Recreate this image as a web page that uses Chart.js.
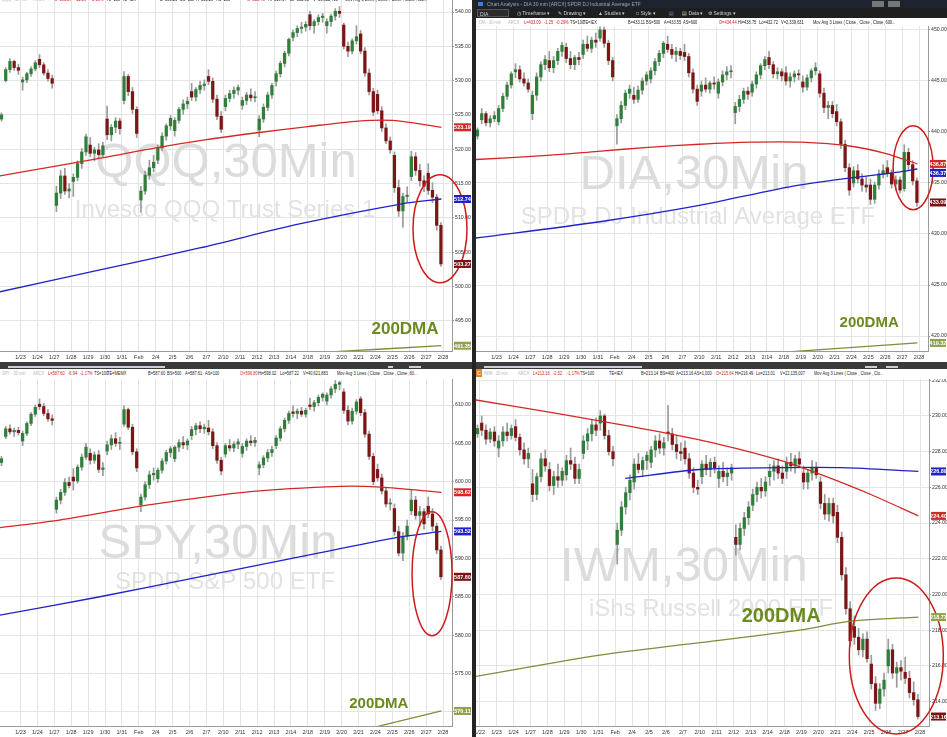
<!DOCTYPE html>
<html>
<head>
<meta charset="utf-8">
<script src="https://cdn.jsdelivr.net/npm/chart.js@4.4.1/dist/chart.umd.min.js"></script>
<style>
body{margin:0;width:947px;height:737px;background:#242424;overflow:hidden;position:relative;font-family:"Liberation Sans",Arial,sans-serif}
.panel{position:absolute;background:#fff;overflow:hidden}
.panel canvas{position:absolute;left:0}
.info{position:absolute;left:0;height:9px;width:100%;font-size:5px;white-space:nowrap}
.info span{position:absolute;top:1px;color:#222;transform:scaleX(0.8);transform-origin:0 50%}
.info .g{color:#b8b8b8}.info .r{color:#d42222}
.scroll{position:absolute;height:7px;background:#3a3a3a}
.scroll div{position:absolute;top:4px;height:2px;background:#c9d0da}
.titlebar{position:absolute;left:0;top:0;width:100%;height:8px;background:#1d2430;color:#9aa4b0;font-size:5px;line-height:8px}
.toolbar{position:absolute;left:0;top:8px;width:100%;height:10px;background:#1f1f1f;color:#cfcfcf;font-size:5px;line-height:10px}
.toolbar span,.titlebar span{position:absolute}
</style>
</head>
<body>

<div class="panel" style="left:0;top:0;width:472px;height:362px">
  <canvas id="qqq" width="472" height="362" style="top:0"></canvas>
  <div class="info" style="top:-5px">
    <span class="g" style="left:2px">QQQ - 30 min</span><span class="g" style="left:33px">ARCX</span>
    <span class="r" style="left:55px">L=503.27</span><span class="r" style="left:75px">-11.29</span><span class="r" style="left:91px">-2.19%</span>
    <span style="left:106px">TS=100</span><span style="left:122px">TE=IEX</span><span style="left:160px">B=503.26</span><span style="left:180px">BS=100</span>
    <span style="left:196px">A=503.29</span><span style="left:216px">AS=200</span><span class="r" style="left:247px">O=518.48</span><span style="left:268px">Hi=519.64</span>
    <span style="left:290px">Lo=502.93</span><span style="left:313px">V=36,612,410</span><span style="left:345px">Mov Avg 3 Lines ( Close , Close , Close ,600...</span>
  </div>
</div>
<div class="scroll" style="left:0;top:362px;width:472px"><div style="left:8px;width:157px"></div><div style="left:388px;width:5px"></div><div style="left:409px;width:12px"></div></div>

<div class="panel" style="left:476px;top:0;width:471px;height:362px">
  <div class="titlebar"><span style="left:2px;top:2px;width:5px;height:4px;background:#3d7fd6"></span><span style="left:11px">Chart Analysis - DIA 30 min [ARCX] SPDR DJ Industrial Average ETF</span>
    <span style="left:396px;top:1px;width:12px;height:6px;background:#777"></span><span style="left:412px;top:1px;width:12px;height:6px;background:#777"></span></div>
  <div class="toolbar">
    <span style="left:1px;top:1px;width:32px;height:8px;line-height:8px;background:#2c2c2c;border:1px solid #555;box-sizing:border-box;padding-left:2px">DIA</span>
    <span style="left:41px">&#9719; Timeframe &#9662;</span><span style="left:82px">&#9998; Drawing &#9662;</span><span style="left:122px">&#9650; Studies &#9662;</span>
    <span style="left:160px">&#9633; Style &#9662;</span><span style="left:193px;color:#5b8fd8">&#9636;</span><span style="left:206px">&#9636; Data &#9662;</span><span style="left:232px">&#9881; Settings &#9662;</span>
  </div>
  <div class="info" style="top:18px">
    <span class="g" style="left:3px">DIA - 30 min</span><span class="g" style="left:32px">ARCX</span>
    <span class="r" style="left:48px">L=433.09</span><span class="r" style="left:68px">-1.25</span><span class="r" style="left:80px">-0.29%</span>
    <span style="left:94px">TS=100</span><span style="left:107px">TE=IEX</span><span style="left:152px">B=433.11</span><span style="left:170px">BS=500</span>
    <span style="left:188px">A=433.55</span><span style="left:207px">AS=600</span><span class="r" style="left:243px">O=434.44</span><span style="left:262px">Hi=438.75</span>
    <span style="left:283px">Lo=432.72</span><span style="left:305px">V=2,339,631</span><span style="left:337px">Mov Avg 3 Lines ( Close , Close , Close ,600...</span>
  </div>
  <canvas id="dia" width="471" height="336" style="top:26px"></canvas>
</div>
<div class="scroll" style="left:476px;top:362px;width:471px"><div style="left:8px;width:158px"></div><div style="left:389px;width:12px"></div><div style="left:410px;width:12px"></div></div>

<div class="panel" style="left:0;top:369px;width:472px;height:368px">
  <div class="info" style="top:0">
    <span class="g" style="left:2px">SPY - 30 min</span><span class="g" style="left:33px">ARCX</span>
    <span class="r" style="left:48px">L=587.60</span><span class="r" style="left:68px">-6.94</span><span class="r" style="left:80px">-1.17%</span>
    <span style="left:94px">TS=100</span><span style="left:107px">TE=MEMX</span><span style="left:148px">B=587.60</span><span style="left:167px">BS=500</span>
    <span style="left:185px">A=587.61</span><span style="left:205px">AS=100</span><span class="r" style="left:240px">O=596.80</span><span style="left:258px">Hi=598.02</span>
    <span style="left:280px">Lo=587.22</span><span style="left:303px">V=40,621,883</span><span style="left:337px">Mov Avg 3 Lines ( Close , Close , Close ,60...</span>
  </div>
  <canvas id="spy" width="472" height="358" style="top:10px"></canvas>
</div>

<div class="panel" style="left:476px;top:369px;width:471px;height:368px">
  <div class="info" style="top:0">
    <span style="left:0;top:0;width:6px;height:8px;background:#e8862a;color:#fff;text-align:center;line-height:8px;transform:none">C</span>
    <span class="g" style="left:8px">IWM - 30 min</span><span class="g" style="left:42px">ARCX</span>
    <span class="r" style="left:57px">L=213.16</span><span class="r" style="left:77px">-2.52</span><span class="r" style="left:91px">-1.17%</span>
    <span style="left:104px">TS=100</span><span style="left:133px">TE=IEX</span><span style="left:165px">B=213.14</span><span style="left:184px">BS=400</span>
    <span style="left:200px">A=213.16</span><span style="left:218px">AS=1,000</span><span class="r" style="left:240px">O=215.64</span><span style="left:259px">Hi=216.49</span>
    <span style="left:280px">Lo=213.01</span><span style="left:304px">V=22,135,007</span><span style="left:338px">Mov Avg 3 Lines ( Close , Close , Clo...</span>
  </div>
  <canvas id="iwm" width="471" height="358" style="top:10px"></canvas>
</div>

<script>
// session labels, index k = position - 1 (1/23 sits at k = 0, Feb = 2/3)
var dayLabels = ['1/22','1/23','1/24','1/27','1/28','1/29','1/30','1/31','Feb','2/4','2/5','2/6','2/7','2/10','2/11','2/12','2/13','2/14','2/18','2/19','2/20','2/21','2/24','2/25','2/26','2/27','2/28'];

// 30 min candles, grouped 4 per session: [open, high, low, close]
// first entry = last block of 1/21, last line = 2/27 (intraday)
var qqqBars = [
  [524.4,525.3,524.1,525.0],
  [530.0,531.9,529.8,531.6],[531.6,533.2,531.2,532.8],[532.8,533.0,531.5,531.9],[531.9,532.4,530.9,531.5],
  [529.8,530.5,528.6,530.1],[530.1,531.2,529.7,531.0],[531.0,532.0,530.6,531.7],[531.7,532.9,531.4,532.6],
  [533.1,533.8,531.9,532.3],[532.3,532.6,530.8,531.1],[531.1,531.6,529.9,530.3],[530.3,530.8,528.9,529.6],
  [511.8,514.6,510.9,513.6],[513.6,516.9,512.8,516.1],[516.1,517.2,513.4,513.9],[513.9,515.0,512.9,514.2],
  [515.3,516.4,513.1,515.9],[515.9,518.3,515.4,517.9],[517.9,520.1,517.2,519.6],[519.6,522.2,519.1,521.8],
  [520.6,521.7,518.9,519.4],[519.4,520.3,518.3,519.9],[519.9,520.8,518.7,519.2],[519.2,521.0,518.9,520.5],
  [524.4,526.3,521.4,522.1],[522.1,523.6,521.2,523.2],[523.2,524.6,522.4,524.1],[524.1,524.5,522.2,523.0],
  [527.1,531.3,526.6,530.6],[530.6,530.9,527.8,528.4],[528.4,529.0,525.2,525.8],[525.8,526.2,521.7,522.3],
  [512.6,514.6,510.8,513.9],[513.9,516.8,513.4,516.2],[516.2,518.4,515.6,517.3],[517.3,519.1,516.7,518.1],
  [518.4,520.6,517.9,520.2],[520.2,522.4,519.8,521.9],[521.9,523.7,521.3,523.4],[523.4,524.9,522.8,524.5],
  [522.7,524.6,521.9,524.2],[524.2,526.1,523.8,525.8],[525.8,527.2,525.1,526.6],[526.6,527.6,525.9,527.0],
  [528.4,529.6,527.1,527.6],[527.6,529.0,527.0,528.7],[528.7,529.9,528.1,529.3],[529.3,530.1,528.6,529.5],
  [530.6,531.6,529.4,529.9],[529.9,530.4,526.8,527.3],[527.3,527.9,524.3,524.8],[524.8,525.5,522.4,522.9],
  [526.2,527.9,525.6,527.4],[527.4,528.6,526.9,528.1],[528.1,529.1,527.4,528.6],[528.6,529.4,527.9,529.0],
  [526.4,527.6,525.8,527.1],[527.1,528.3,526.5,527.9],[527.9,528.8,527.0,527.5],[527.5,528.4,526.9,527.6],
  [522.8,524.9,521.8,524.4],[524.4,526.6,523.9,526.1],[526.1,528.3,525.6,527.9],[527.9,529.6,527.4,529.3],
  [529.9,531.4,529.2,531.0],[531.0,532.8,530.5,532.5],[532.5,534.3,532.0,534.0],[534.0,536.2,533.6,536.0],
  [536.3,537.4,535.8,537.0],[537.0,538.0,536.4,537.6],[537.6,538.5,536.9,537.8],[537.8,538.6,537.2,538.2],
  [539.6,540.1,537.4,538.0],[538.0,538.9,536.9,538.6],[538.6,539.6,538.1,539.2],[539.2,539.8,538.5,539.4],
  [538.0,539.0,536.9,538.6],[538.6,539.7,537.9,539.4],[539.4,540.5,538.8,540.1],[540.1,540.8,539.2,539.8],
  [538.1,538.4,534.6,535.0],[535.0,535.6,533.5,534.3],[534.3,536.1,533.9,535.8],[535.8,538.0,535.3,536.4],
  [536.8,537.3,533.9,534.3],[534.3,534.8,530.6,531.1],[531.1,531.7,527.9,528.4],[528.4,528.9,524.9,525.4],
  [528.0,528.6,525.2,525.6],[525.6,526.2,522.6,523.1],[523.1,523.7,520.8,521.2],[521.2,521.8,519.4,519.9],
  [519.1,519.6,513.7,514.4],[514.4,515.5,510.2,511.0],[511.0,513.6,508.6,513.1],[513.1,514.5,512.2,513.3],
  [516.0,519.7,515.4,518.9],[518.9,519.5,516.2,516.9],[516.9,517.8,514.6,515.4],[515.4,516.1,513.8,514.6],
  [516.5,517.9,513.4,514.0],[514.0,515.1,512.2,513.0],[513.0,513.4,508.2,508.9],[508.9,509.3,502.9,503.27]
];
var diaBars = [
  [439.6,440.4,439.3,440.2],
  [441.2,442.3,440.8,441.8],[441.8,442.0,440.6,440.9],[440.9,441.6,440.5,441.3],[441.3,442.0,441.0,441.6],
  [441.0,442.6,440.7,442.3],[442.3,443.8,442.0,443.5],[443.5,444.9,443.2,444.6],[444.6,445.9,444.3,445.7],
  [445.9,446.7,445.3,446.1],[446.1,446.5,444.9,445.2],[445.2,445.8,444.5,444.8],[444.8,445.2,443.9,444.2],
  [441.8,444.0,441.2,443.6],[443.6,445.8,443.1,445.4],[445.4,446.9,445.0,446.6],[446.6,447.5,446.1,447.1],
  [447.0,447.9,445.9,446.3],[446.3,447.4,445.8,447.0],[447.0,448.2,446.6,447.9],[447.9,448.8,447.4,448.5],
  [448.3,448.7,446.8,447.2],[447.2,447.9,446.2,446.6],[446.6,447.5,446.1,447.3],[447.3,447.8,446.6,447.1],
  [447.6,449.0,447.2,448.6],[448.6,449.4,447.9,448.2],[448.2,449.3,447.8,449.0],[449.0,449.7,448.3,448.8],
  [449.2,450.3,448.9,450.0],[450.0,450.3,448.3,448.7],[448.7,449.0,446.6,447.0],[447.0,447.3,445.0,445.4],
  [440.6,441.7,438.8,441.3],[441.3,443.0,440.9,442.6],[442.6,444.1,442.2,443.8],[443.8,444.6,443.3,444.2],
  [443.6,444.4,442.8,443.2],[443.2,444.5,442.9,444.1],[444.1,445.3,443.7,445.0],[445.0,445.9,444.6,445.6],
  [445.2,446.3,444.8,446.0],[446.0,447.2,445.6,446.9],[446.9,448.0,446.5,447.7],[447.7,448.9,447.3,448.7],
  [448.6,449.4,447.8,448.1],[448.1,448.6,447.2,447.6],[447.6,448.3,446.9,447.9],[447.9,448.2,447.1,447.5],
  [447.8,448.6,447.0,447.4],[447.4,447.7,445.4,445.8],[445.8,446.2,443.8,444.2],[444.2,444.6,442.6,443.0],
  [444.0,445.0,443.5,444.6],[444.6,445.3,443.9,444.2],[444.2,445.0,443.8,444.8],[444.8,445.4,444.2,444.7],
  [443.8,445.2,443.3,444.9],[444.9,446.0,444.5,445.6],[445.6,446.4,445.1,445.9],[445.9,446.5,445.3,445.9],
  [441.9,442.9,440.8,442.5],[442.5,443.6,442.0,443.2],[443.2,444.3,442.8,444.0],[444.0,444.4,443.2,443.7],
  [443.9,445.0,443.5,444.7],[444.7,445.9,444.3,445.6],[445.6,446.7,445.2,446.5],[446.5,447.4,446.1,447.1],
  [447.3,447.9,446.2,446.6],[446.6,446.9,445.3,445.7],[445.7,446.3,445.2,445.9],[445.9,446.2,445.0,445.5],
  [445.8,446.4,444.6,445.0],[445.0,445.8,444.4,445.4],[445.4,446.0,444.9,445.7],[445.7,446.1,445.1,445.6],
  [444.9,445.5,443.9,444.4],[444.4,445.6,444.1,445.3],[445.3,446.2,444.9,446.0],[446.0,446.8,445.6,446.3],
  [445.7,446.0,443.4,443.8],[443.8,444.3,441.9,442.4],[442.4,443.0,441.3,442.6],[442.6,443.0,441.4,441.8],
  [442.0,442.7,440.6,441.0],[441.0,441.3,438.4,438.8],[438.8,439.2,436.1,436.5],[436.5,436.9,433.8,434.3],
  [435.0,436.6,434.6,436.2],[436.2,436.8,435.0,435.4],[435.4,435.9,434.2,434.8],[434.8,435.6,434.1,434.6],
  [434.8,435.4,432.9,433.4],[433.4,435.1,433.0,434.8],[434.8,436.3,434.4,435.9],[435.9,436.8,435.5,436.2],
  [436.5,437.2,435.6,436.0],[436.0,436.3,434.5,434.9],[434.9,435.7,434.3,435.3],[435.3,435.6,434.0,434.3],
  [434.44,438.75,434.2,438.0],[438.0,438.4,436.3,436.8],[436.8,437.2,434.8,435.2],[435.2,435.5,432.72,433.09]
];
var spyBars = [
  [602.5,603.3,602.1,603.0],
  [605.9,607.2,605.6,606.9],[606.9,607.4,606.2,606.5],[606.5,607.0,605.9,606.7],[606.7,607.1,606.1,606.4],
  [605.3,606.6,604.7,606.3],[606.3,607.8,606.0,607.6],[607.6,609.0,607.3,608.8],[608.8,610.0,608.5,609.7],
  [610.1,610.8,609.4,609.8],[609.8,610.2,608.6,608.9],[608.9,609.4,607.9,608.2],[608.2,608.7,607.4,608.0],
  [596.4,598.0,595.9,597.6],[597.6,599.0,597.1,598.6],[598.6,600.4,598.2,599.9],[599.9,600.6,599.2,599.5],
  [600.6,601.7,598.9,600.1],[600.1,602.2,599.8,601.9],[601.9,603.6,601.5,603.2],[603.2,605.0,602.9,604.5],
  [603.7,604.3,602.3,602.8],[602.8,603.9,602.4,603.5],[603.5,604.1,601.2,601.6],[601.6,602.5,600.8,601.8],
  [604.0,605.3,603.5,604.8],[604.8,606.1,604.2,605.6],[605.6,606.4,604.6,605.0],[605.0,605.8,604.2,605.0],
  [607.5,609.9,607.2,609.4],[609.4,609.6,606.8,607.1],[607.1,607.5,603.5,603.9],[603.9,604.3,601.3,601.8],
  [597.0,598.4,596.1,598.0],[598.0,600.0,597.6,599.6],[599.6,601.4,599.1,600.9],[600.9,601.8,600.2,601.1],
  [600.4,601.8,599.9,601.5],[601.5,603.0,601.1,602.7],[602.7,604.1,602.3,603.8],[603.8,604.6,603.2,604.3],
  [603.0,604.7,602.6,604.5],[604.5,605.5,603.9,605.1],[605.1,605.9,604.3,604.8],[604.8,605.6,604.2,605.3],
  [606.0,607.2,605.5,606.8],[606.8,607.6,606.1,607.3],[607.3,607.8,606.4,606.9],[606.9,607.5,606.3,607.1],
  [607.0,608.0,606.1,606.5],[606.5,606.9,604.3,604.7],[604.7,605.1,602.4,602.8],[602.8,603.2,600.9,601.4],
  [603.6,605.0,603.2,604.7],[604.7,605.5,604.0,604.4],[604.4,605.2,603.9,604.9],[604.9,605.6,604.3,605.2],
  [603.7,605.0,603.2,604.6],[604.6,605.6,604.1,605.3],[605.3,606.0,604.7,605.1],[605.1,605.8,604.6,605.4],
  [601.8,602.6,600.9,602.2],[602.2,603.4,601.8,603.1],[603.1,604.2,602.6,603.8],[603.8,604.6,603.3,604.2],
  [604.7,606.0,604.3,605.7],[605.7,607.2,605.3,606.9],[606.9,608.3,606.5,608.0],[608.0,609.2,607.6,608.9],
  [609.1,609.9,608.4,608.9],[608.9,609.5,608.2,609.2],[609.2,609.7,608.5,608.8],[608.8,609.6,608.4,609.3],
  [610.0,610.9,609.4,609.8],[609.8,610.6,609.2,610.3],[610.3,611.3,609.9,611.0],[611.0,611.6,610.5,611.4],
  [610.5,611.6,610.0,611.3],[611.3,612.4,610.9,612.1],[612.1,613.2,611.6,612.7],[612.7,613.1,612.0,612.9],
  [611.7,612.1,608.9,609.3],[609.3,609.9,607.4,607.9],[607.9,609.6,607.5,609.2],[609.2,610.7,608.8,610.4],
  [610.8,611.1,608.6,609.0],[609.0,609.4,605.8,606.2],[606.2,606.6,602.9,603.3],[603.3,603.7,599.6,600.0],
  [601.6,602.3,600.1,600.5],[600.5,601.0,598.4,598.8],[598.8,599.3,596.7,597.1],[597.1,597.8,596.3,597.2],
  [596.5,597.1,593.0,593.5],[593.5,594.2,590.3,590.7],[590.7,593.4,589.7,592.9],[592.9,595.0,592.4,594.2],
  [596.2,598.9,595.7,597.6],[597.6,598.1,595.1,595.6],[595.6,596.8,594.2,596.1],[596.1,596.5,593.8,594.5],
  [596.8,598.02,595.3,595.8],[595.8,596.5,593.6,594.2],[594.2,594.6,590.6,591.1],[591.1,591.6,587.22,587.6]
];
var iwmBars = [
  [229.0,229.5,228.8,229.3],
  [229.6,230.0,228.9,229.2],[229.2,229.5,228.4,228.7],[228.7,229.3,228.5,229.1],[229.1,229.4,228.3,228.6],
  [228.2,228.9,227.7,228.6],[228.6,229.4,228.3,229.1],[229.1,229.6,228.6,228.9],[228.9,229.5,228.7,229.3],
  [229.4,229.8,228.6,228.8],[228.8,229.0,227.8,228.1],[228.1,228.5,227.3,227.6],[227.6,228.2,227.1,227.9],
  [226.2,227.0,225.2,225.6],[225.6,226.8,225.3,226.6],[226.6,227.9,226.3,227.6],[227.6,228.1,226.9,227.2],
  [227.0,227.4,225.8,226.1],[226.1,226.9,225.6,226.6],[226.6,227.3,226.0,226.4],[226.4,227.1,226.1,226.9],
  [226.7,227.8,226.4,227.5],[227.5,228.2,227.0,227.3],[227.3,227.7,226.2,226.5],[226.5,227.3,226.2,227.0],
  [227.9,228.9,227.6,228.6],[228.6,229.3,228.1,229.0],[229.0,229.8,228.6,229.5],[229.5,229.9,228.9,229.2],
  [229.6,230.3,229.2,230.0],[230.0,230.1,228.7,228.9],[228.9,229.2,227.8,228.0],[228.0,228.3,227.2,227.6],
  [222.8,224.0,221.7,223.6],[223.6,225.2,223.3,224.9],[224.9,226.0,224.5,225.7],[225.7,226.7,225.3,226.4],
  [226.3,227.6,225.9,227.3],[227.3,227.9,226.8,227.0],[227.0,227.7,226.6,227.5],[227.5,228.0,227.0,227.8],
  [227.4,228.3,227.1,228.1],[228.1,228.9,227.7,228.6],[228.6,229.0,227.9,228.2],[228.2,228.8,227.8,228.5],
  [229.1,230.6,228.6,229.0],[229.0,229.3,228.1,228.4],[228.4,228.9,227.6,228.0],[228.0,228.5,227.5,227.9],
  [228.2,228.6,227.3,227.6],[227.6,227.9,226.5,226.8],[226.8,227.1,225.7,226.0],[226.0,226.4,225.6,225.9],
  [226.6,227.5,226.2,227.3],[227.3,227.8,226.7,227.0],[227.0,227.6,226.6,227.4],[227.4,227.7,226.8,227.1],
  [226.5,227.2,226.0,226.9],[226.9,227.4,226.3,226.6],[226.6,227.1,226.1,226.8],[226.8,227.3,226.4,227.1],
  [223.2,223.9,222.2,222.8],[222.8,224.0,222.5,223.7],[223.7,224.6,223.3,224.3],[224.3,225.2,223.9,224.9],
  [225.0,225.9,224.7,225.6],[225.6,226.3,225.2,226.0],[226.0,226.5,225.4,225.8],[225.8,226.6,225.5,226.3],
  [226.6,227.3,226.1,226.9],[226.9,227.5,226.4,227.2],[227.2,227.6,226.5,226.8],[226.8,227.2,226.2,226.5],
  [226.9,227.7,226.5,227.4],[227.4,227.9,226.9,227.2],[227.2,227.8,226.8,227.6],[227.6,228.0,227.1,227.3],
  [226.8,227.2,225.9,226.3],[226.3,227.0,225.9,226.8],[226.8,227.5,226.4,227.1],[227.1,227.4,226.5,226.7],
  [226.3,226.6,224.8,225.1],[225.1,225.6,224.2,224.5],[224.5,225.4,224.1,225.1],[225.1,225.4,224.0,224.4],
  [224.6,225.0,222.9,223.2],[223.2,223.5,220.8,221.1],[221.1,221.5,218.9,219.2],[219.2,219.6,217.1,217.4],
  [218.2,218.8,217.2,217.6],[217.6,218.1,216.6,216.9],[216.9,217.8,216.5,217.5],[217.5,217.9,216.2,216.4],
  [216.1,216.6,214.7,215.0],[215.0,215.4,213.5,213.9],[213.9,215.0,213.6,214.7],[214.7,215.6,214.3,215.2],
  [216.0,217.5,215.6,216.9],[216.9,217.2,215.3,215.6],[215.6,216.2,214.8,215.9],[215.9,216.3,215.2,215.7],
  [215.64,216.49,215.0,215.3],[215.3,215.7,214.2,214.5],[214.5,215.1,213.8,214.1],[214.1,214.4,213.01,213.16]
];

// moving averages, [session index, value]
var qqqRed   = [[-1.25,516.1],[2,517.5],[5,518.8],[8,520.2],[11,521.4],[14,522.4],[17,523.3],[20,524.1],[22,524.2],[24.9,523.19]];
var qqqBlue  = [[-1.25,499.2],[4.7,502.4],[10.6,505.6],[16.5,509.1],[22.5,512.0],[24.9,512.74]];
var qqq200   = [[18,490.4],[24.9,491.35]];
var diaRed   = [[-1.25,437.3],[3,437.7],[6,438.1],[9,438.5],[12,438.8],[15,439.0],[18,439.0],[21,438.6],[23,437.9],[24.9,436.87]];
var diaBlue  = [[-1.25,429.6],[6.1,431.2],[12,432.8],[17.9,434.8],[23.9,436.1],[24.9,436.37]];
var dia200   = [[16,418.3],[24.9,419.32]];
var spyRed   = [[-1.25,594.0],[2.3,595.0],[7.7,597.0],[13.6,598.7],[18.9,599.4],[21.3,599.3],[24.9,598.62]];
var spyBlue  = [[-1.25,582.6],[4.7,585.0],[10.6,587.6],[16.5,590.2],[22.5,592.8],[24.9,593.52]];
var spy200   = [[18,566.4],[24.9,570.11]];
var iwmRed   = [[-1.25,230.9],[3.2,230.2],[9.1,229.2],[13.2,228.4],[16.8,227.5],[19.2,226.7],[22.1,225.6],[24.9,224.40]];
var iwmBlue  = [[7.6,226.5],[12,227.0],[16.8,227.1],[20.4,227.1],[24.9,226.89]];
var iwm200   = [[-1.25,215.4],[6.1,216.6],[12,217.3],[17.9,218.0],[20.9,218.5],[24.9,218.73]];

var FIRST_BAR = -1.125, PER_DAY = 4;
var UP = '#2f7f3a', DOWN = '#7c1616', WICK = '#9a9a9a';
var RED = '#d42828', BLUE = '#2020c8', OLIVE = '#7f8e3c', DARKRED = '#7a1313', TAGOLIVE = '#8fa24c';
var FONT = '"Liberation Sans", Arial, sans-serif';

function candleChart(id, p) {
  var wicks = p.bars.map(function(b, i) { return {x: FIRST_BAR + i / PER_DAY, y: [b[2], b[1]]}; });
  var bodies = p.bars.map(function(b, i) { return {x: FIRST_BAR + i / PER_DAY, y: [Math.min(b[0], b[3]), Math.max(b[0], b[3])]}; });
  var colors = p.bars.map(function(b) { return b[3] >= b[0] ? UP : DOWN; });
  var sets = [
    {type: 'bar', data: wicks, backgroundColor: WICK, barThickness: 1, order: 3},
    {type: 'bar', data: bodies, backgroundColor: colors, barThickness: 2.6, minBarLength: 1, order: 2}
  ];
  p.lines.forEach(function(l) {
    sets.push({type: 'line', data: l[0].map(function(q) { return {x: q[0], y: q[1]}; }),
      borderColor: l[1], borderWidth: 1.3, pointRadius: 0, tension: 0.3, order: 1});
  });

  var decor = {
    id: 'decor' + id,
    beforeDatasetsDraw: function(chart) {
      var c = chart.ctx, a = chart.chartArea;
      c.save();
      c.textAlign = 'center';
      c.textBaseline = 'middle';
      c.fillStyle = '#dcdcdc';
      c.font = p.wm.size + 'px ' + FONT;
      c.fillText(p.wm.title, p.wm.x, a.top + p.wm.y);
      c.fillStyle = '#e2e2e2';
      c.font = p.wm.subSize + 'px ' + FONT;
      c.fillText(p.wm.sub, p.wm.subX, a.top + p.wm.subY);
      c.restore();
    },
    afterDraw: function(chart) {
      var c = chart.ctx, a = chart.chartArea, xs = chart.scales.x, ys = chart.scales.y;
      c.save();
      // 200DMA caption
      c.fillStyle = '#6b8a1e';
      c.font = 'bold ' + p.dma.size + 'px ' + FONT;
      c.textAlign = 'center';
      c.textBaseline = 'middle';
      c.fillText('200DMA', xs.getPixelForValue(p.dma.k), ys.getPixelForValue(p.dma.v));
      // red ring
      c.strokeStyle = '#d01a1a';
      c.lineWidth = 1.5;
      c.beginPath();
      c.ellipse(xs.getPixelForValue(p.ring.k), ys.getPixelForValue(p.ring.v), p.ring.rx, p.ring.ry, 0, 0, Math.PI * 2);
      c.stroke();
      // price tags on the axis
      var tags = p.tags.map(function(t) { return {v: t[0], col: t[1], y: ys.getPixelForValue(t[0])}; });
      tags.sort(function(m, n) { return m.y - n.y; });
      var last = -99;
      c.font = 'bold 5.5px ' + FONT;
      tags.forEach(function(t) {
        var y = Math.max(t.y, last + 9);
        y = Math.min(y, a.bottom - 4);
        last = y;
        c.fillStyle = t.col;
        c.fillRect(a.right + 2, y - 4, chart.width - a.right - 3, 8);
        c.fillStyle = '#fff';
        c.fillText(t.v.toFixed(2), (a.right + 2 + chart.width - 1) / 2, y + 0.5);
      });
      c.restore();
    }
  };

  new Chart(document.getElementById(id), {
    data: {datasets: sets},
    plugins: [decor],
    options: {
      responsive: false,
      animation: false,
      layout: {padding: 0},
      datasets: {bar: {grouped: false}},
      plugins: {legend: {display: false}, tooltip: {enabled: false}},
      scales: {
        x: {
          type: 'linear', min: -1.213, max: 25.53, offset: false,
          grid: {color: '#e4e4e4', offset: false, drawTicks: false},
          border: {color: '#9a9a9a'},
          ticks: {font: {family: FONT, size: 5.5}, color: '#333', padding: 3, autoSkip: false, maxRotation: 0,
            callback: function(v) { return dayLabels[v + 1]; }},
          afterBuildTicks: function(s) {
            var t = [];
            for (var k = p.firstTick; k <= 25; k++) t.push({value: k});
            s.ticks = t;
          },
          afterFit: function(s) { s.height = 11; s.paddingLeft = 0; s.paddingRight = 0; }
        },
        y: {
          position: 'right', min: p.min, max: p.max,
          grid: {color: '#e4e4e4', tickLength: 2, tickColor: '#999'},
          border: {color: '#9a9a9a'},
          ticks: {stepSize: p.step, includeBounds: false, font: {family: FONT, size: 5.2}, color: '#333', padding: 1,
            callback: function(v) { return v.toFixed(2); }},
          afterFit: function(s) { s.width = p.axisW; s.paddingTop = 0; s.paddingBottom = 0; }
        }
      }
    }
  });
}

candleChart('qqq', {
  bars: qqqBars, lines: [[qqqRed, RED], [qqqBlue, BLUE], [qqq200, OLIVE]],
  min: 490.58, max: 541.75, step: 5, axisW: 20, firstTick: 0,
  wm: {title: 'QQQ,30Min', size: 49, x: 226, y: 163, sub: 'Invesco QQQ Trust Series 1', subSize: 24, subX: 225, subY: 210},
  dma: {k: 22.75, v: 493.8, size: 17},
  ring: {k: 24.82, v: 508.4, rx: 27, ry: 54},
  tags: [[523.19, RED], [512.74, BLUE], [503.27, DARKRED], [491.35, TAGOLIVE]]
});
candleChart('dia', {
  bars: diaBars, lines: [[diaRed, RED], [diaBlue, BLUE], [dia200, OLIVE]],
  min: 418.53, max: 450.39, step: 5, axisW: 19, firstTick: 0,
  wm: {title: 'DIA,30Min', size: 49, x: 218, y: 149, sub: 'SPDR DJ Industrial Average ETF', subSize: 24, subX: 222, subY: 191},
  dma: {k: 22.05, v: 421.3, size: 15},
  ring: {k: 24.65, v: 436.5, rx: 20, ry: 42},
  tags: [[436.87, RED], [436.37, BLUE], [433.09, DARKRED], [419.32, TAGOLIVE]]
});
candleChart('spy', {
  bars: spyBars, lines: [[spyRed, RED], [spyBlue, BLUE], [spy200, OLIVE]],
  min: 568.15, max: 613.39, step: 5, axisW: 20, firstTick: 0,
  wm: {title: 'SPY,30Min', size: 49, x: 218, y: 165, sub: 'SPDR S&P 500 ETF', subSize: 24, subX: 225, subY: 203},
  dma: {k: 21.2, v: 571.1, size: 15},
  ring: {k: 24.35, v: 588.0, rx: 20, ry: 62},
  tags: [[598.62, RED], [593.52, BLUE], [587.60, DARKRED], [570.11, TAGOLIVE]]
});
candleChart('iwm', {
  bars: iwmBars, lines: [[iwmRed, RED], [iwmBlue, BLUE], [iwm200, OLIVE]],
  min: 212.63, max: 232.07, step: 2, axisW: 18, firstTick: -1,
  wm: {title: 'IWM,30Min', size: 49, x: 208, y: 188, sub: 'iShs Russell 2000 ETF', subSize: 24, subX: 235, subY: 230},
  dma: {k: 16.8, v: 218.74, size: 20},
  ring: {k: 23.6, v: 216.55, rx: 47, ry: 78},
  tags: [[226.89, BLUE], [224.40, RED], [218.73, TAGOLIVE], [213.16, DARKRED]]
});
</script>
</body>
</html>
